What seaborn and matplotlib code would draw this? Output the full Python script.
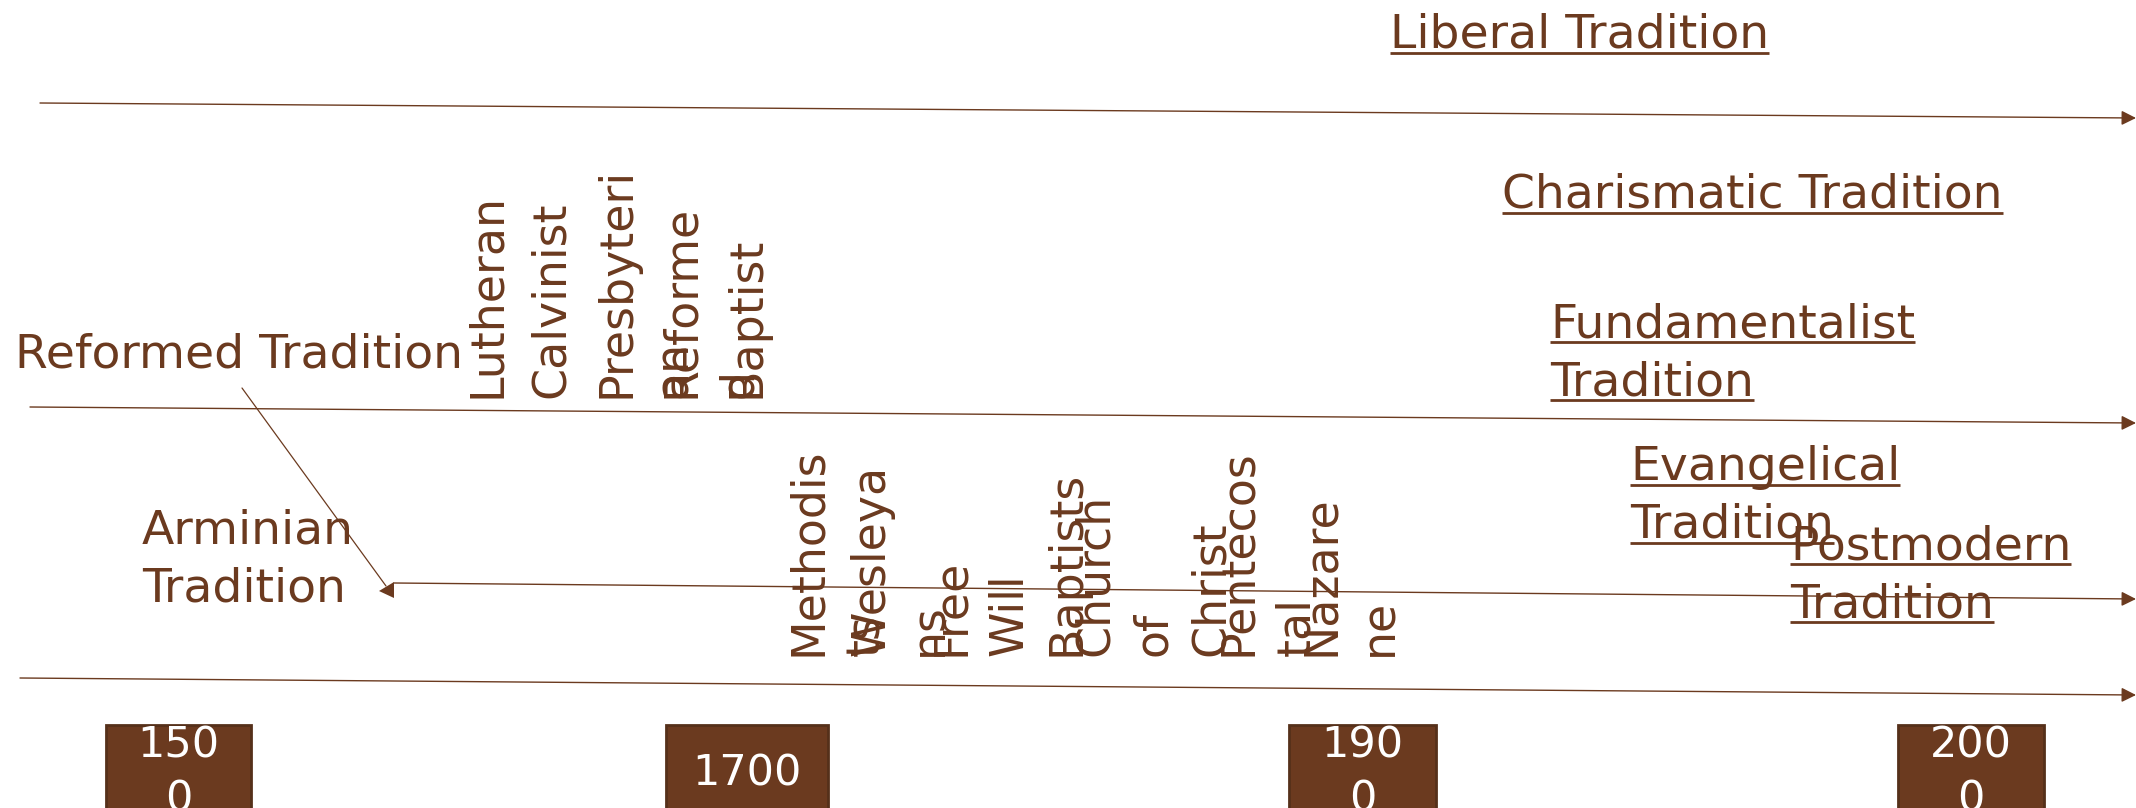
import matplotlib
matplotlib.use("Agg")
import matplotlib.pyplot as plt
from matplotlib.patches import Rectangle
import seaborn as sns

# ── theme ─────────────────────────────────────────────
BROWN = '#6B3A1F'
BOX_EDGE = '#55301A'
sns.set_theme(style='white')
plt.rcParams['font.family'] = ['DejaVu Sans']
FS_H = 34   # horizontal tradition labels
FS_V = 33   # vertical denomination labels
FS_Y = 31   # year boxes

# ── data: texts ───────────────────────────────────────
underlined_traditions = [["Liberal Tradition"],
                         ["Charismatic Tradition"],
                         ["Fundamentalist", "Tradition"],
                         ["Evangelical", "Tradition"],
                         ["Postmodern", "Tradition"]]
plain_traditions = [["Reformed Tradition"],
                    ["Arminian", "Tradition"]]
reformed_groups = [["Lutheran"], ["Calvinist"], ["Presbyteri", "an"],
                   ["Reforme", "d"], ["Baptist"]]
arminian_groups = [["Methodis", "ts"], ["Wesleya", "ns"],
                   ["Free", "Will", "Baptists"], ["Church", "of", "Christ"],
                   ["Pentecos", "tal"], ["Nazare", "ne"]]
years = ["1500", "1700", "1900", "2000"]

# ── layout (pixels, y down) ───────────────────────────
underlined_pos = [(1390, 48), (1502, 208), (1550, 337), (1630, 480), (1790, 559)]
plain_pos = [(15, 368), (142, 543)]
reformed_x = [500, 564, 629, 694, 760]
reformed_bottom = 398
arminian_x = [821, 884, 964, 1108, 1251, 1334]
arminian_bottom = 656
LINE_H = 58
VLINE_H = 58
timelines = [((40, 103), (2136, 118)),
             ((30, 407), (2136, 423)),
             ((394, 583), (2136, 599)),
             ((20, 678), (2136, 695))]
branch = ((242, 388), (386, 586))
branch_head = [(379, 591), (394, 582), (394, 598)]
box_x = [(106, 251), (666, 828), (1289, 1436), (1898, 2044)]
box_top, box_bottom = 725, 815

fig = plt.figure(figsize=(21.36, 8.08), dpi=100)
ax = fig.add_axes([0, 0, 1, 1])
ax.set_xlim(0, 2136)
ax.set_ylim(808, 0)
ax.axis('off')

# timeline arrows
for (x0, y0), (x1, y1) in timelines:
    ax.annotate('', xy=(x1, y1), xytext=(x0, y0),
                arrowprops=dict(arrowstyle='-|>', color=BROWN, lw=1.0,
                                mutation_scale=22, shrinkA=0, shrinkB=0))
# branch from Reformed to Arminian
ax.plot([branch[0][0], branch[1][0]], [branch[0][1], branch[1][1]],
        color=BROWN, lw=0.9)
ax.fill([p[0] for p in branch_head], [p[1] for p in branch_head],
        color=BROWN, lw=0)

# horizontal tradition labels
renderer = fig.canvas.get_renderer()
inv = ax.transData.inverted()
for lines, (x, y) in zip(underlined_traditions, underlined_pos):
    for i, line in enumerate(lines):
        yb = y + i * LINE_H
        t = ax.text(x, yb, line, color=BROWN, fontsize=FS_H, ha='left', va='baseline')
        bb = t.get_window_extent(renderer)
        (xa, _), (xb, _) = inv.transform([(bb.x0, bb.y0), (bb.x1, bb.y0)])
        ax.plot([xa, xb], [yb + 5, yb + 5], color=BROWN, lw=2.0, solid_capstyle='butt')

for lines, (x, y) in zip(plain_traditions, plain_pos):
    for i, line in enumerate(lines):
        ax.text(x, y + i * LINE_H, line, color=BROWN, fontsize=FS_H,
                ha='left', va='baseline')

# vertical denomination labels
def vertical_group(groups, xs, bottom):
    for lines, x in zip(groups, xs):
        for i, line in enumerate(lines):
            ax.text(x + i * VLINE_H, bottom, line, color=BROWN, fontsize=FS_V,
                    rotation=90, rotation_mode='anchor', ha='left', va='baseline')

vertical_group(reformed_groups, reformed_x, reformed_bottom)
vertical_group(arminian_groups, arminian_x, arminian_bottom)

# year boxes
for yr, (xa, xb) in zip(years, box_x):
    ax.add_patch(Rectangle((xa, box_top), xb - xa, box_bottom - box_top,
                           facecolor=BROWN, edgecolor=BOX_EDGE, lw=2))
    txt = yr if xb - xa > 150 else yr[:3] + "\n" + yr[3:]
    lines = txt.split("\n")
    first = 785 - (len(lines) - 1) * 28
    for i, line in enumerate(lines):
        ax.text((xa + xb) / 2, first + i * 55, line, color='white',
                fontsize=FS_Y, ha='center', va='baseline')

fig.savefig('out.png', dpi=100, facecolor='white')
